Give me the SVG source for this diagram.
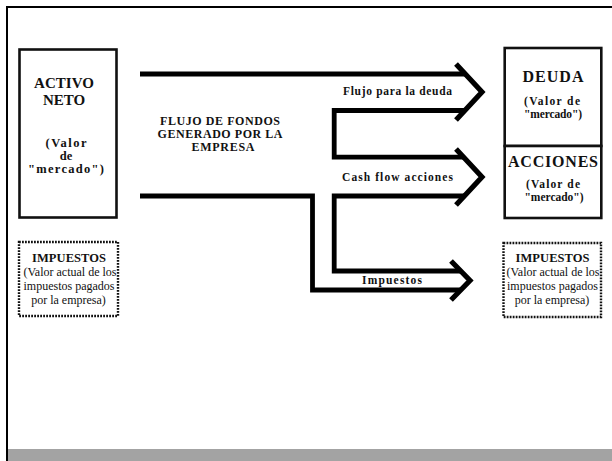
<svg xmlns="http://www.w3.org/2000/svg" width="612" height="461" viewBox="0 0 612 461">
<style>
text{font-family:"Liberation Serif","Times New Roman",serif;fill:#111;}
.b{font-weight:bold;}
.box{fill:#fff;stroke:#111;stroke-width:2.6;}
.dot{fill:#fff;stroke:#111;stroke-width:2.4;stroke-dasharray:1.8 1.2;}
.flow{fill:none;stroke:#000;stroke-width:4.8;stroke-linejoin:miter;stroke-linecap:butt;}
.head{fill:none;stroke:#000;stroke-width:5.2;stroke-linejoin:miter;stroke-linecap:butt;}
.lbl{font-size:11.5px;font-weight:bold;}
</style>
<rect x="0" y="0" width="612" height="461" fill="#fff"/>
<g id="frame">
<rect x="7" y="449" width="605" height="12" fill="#a3a3a3"/>
<path d="M7,461 V7 H612" fill="none" stroke="#000" stroke-width="2"/>
</g>
<g id="activo-neto">
<rect class="box" x="19.5" y="49.5" width="97" height="168"/>
<text class="b" x="64" y="88" font-size="15" text-anchor="middle" textLength="60">ACTIVO</text>
<text class="b" x="64" y="105" font-size="15" text-anchor="middle">NETO</text>
<text class="b" x="66" y="146.5" font-size="12.5" text-anchor="middle" textLength="41">(Valor</text>
<text class="b" x="66" y="160" font-size="12.5" text-anchor="middle">de</text>
<text class="b" x="66" y="173" font-size="12.5" text-anchor="middle" textLength="76">"mercado")</text>
</g>
<g id="deuda">
<rect class="box" x="504.7" y="48" width="96.6" height="98"/>
<text class="b" x="553" y="82" font-size="16" text-anchor="middle" textLength="61">DEUDA</text>
<text class="b" x="552" y="104.5" font-size="11.5" text-anchor="middle" textLength="56">(Valor de</text>
<text class="b" x="553" y="117.5" font-size="11.5" text-anchor="middle" textLength="58">"mercado")</text>
</g>
<g id="acciones">
<rect class="box" x="504.7" y="146" width="96.6" height="72"/>
<text class="b" x="553" y="166.5" font-size="16" text-anchor="middle" textLength="90">ACCIONES</text>
<text class="b" x="553" y="188" font-size="11.5" text-anchor="middle" textLength="54">(Valor de</text>
<text class="b" x="554" y="201" font-size="11.5" text-anchor="middle" textLength="59">"mercado")</text>
</g>
<g id="impuestos-izq">
<rect class="dot" x="19" y="242" width="99" height="74"/>
<text class="b" x="69" y="262" font-size="12.5" text-anchor="middle" textLength="74">IMPUESTOS</text>
<text x="70" y="276" font-size="12" text-anchor="middle">(Valor actual de los</text>
<text x="69" y="290" font-size="12" text-anchor="middle">impuestos pagados</text>
<text x="68.5" y="304" font-size="12" text-anchor="middle">por la empresa)</text>
</g>
<g id="impuestos-der">
<rect class="dot" x="503.5" y="243" width="97.5" height="74"/>
<text class="b" x="552.5" y="262" font-size="12.5" text-anchor="middle" textLength="74">IMPUESTOS</text>
<text x="553" y="276" font-size="12" text-anchor="middle">(Valor actual de los</text>
<text x="552.5" y="290" font-size="12" text-anchor="middle">impuestos pagados</text>
<text x="552" y="304" font-size="12" text-anchor="middle">por la empresa)</text>
</g>
<g id="flujo-fondos">
<text class="b" x="220" y="124.5" font-size="12" text-anchor="middle" textLength="120">FLUJO DE FONDOS</text>
<text class="b" x="220" y="137.5" font-size="12" text-anchor="middle" textLength="125">GENERADO POR LA</text>
<text class="b" x="223" y="150.5" font-size="12" text-anchor="middle" textLength="63">EMPRESA</text>
</g>
<g id="connectors">
<path class="flow" d="M140,74 H465.5"/>
<path class="head" d="M456,64 L482,92 L456,120"/>
<path class="flow" d="M465,110.5 H334.2 V157.2 H464"/>
<path class="head" d="M456,149 L482,177 L456,205"/>
<path class="flow" d="M140,196 H312.5 V290 H460"/>
<path class="flow" d="M465,196 H334.2 V271 H460"/>
<path class="head" d="M451,261 L470,280.5 L451,300"/>
<text class="lbl" x="343" y="95" textLength="109">Flujo para la deuda</text>
<text class="lbl" x="342" y="180.5" textLength="111">Cash flow acciones</text>
<text class="lbl" x="362" y="283.5" textLength="60">Impuestos</text>
</g>
</svg>
